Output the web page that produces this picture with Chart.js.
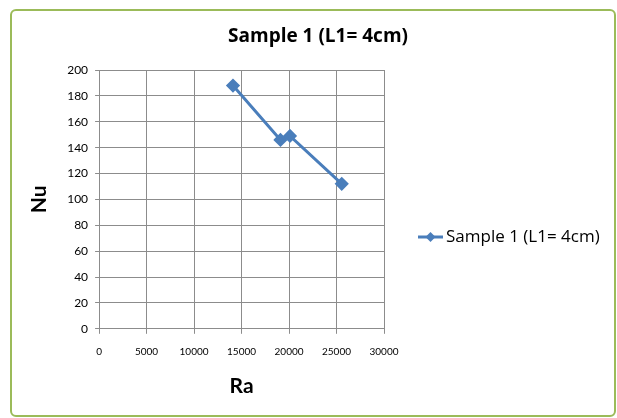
<!DOCTYPE html>
<html>
<head>
<meta charset="utf-8">
<script src="https://cdn.jsdelivr.net/npm/chart.js@4/dist/chart.umd.min.js"></script>
<style>
  body { margin: 0; background: #fff; }
  #frame { position: absolute; left: 10px; top: 9px; width: 602px; height: 404px;
           border: 2px solid #9bbb59; border-radius: 6px; }
  #wrap { position: absolute; left: 0; top: 0; width: 617px; height: 418px; }
</style>
</head>
<body>
<div id="frame"></div>
<div id="wrap"><canvas id="nuChart"></canvas></div>
<script>
var seriesName = "Sample 1 (L1= 4cm)";
var raValues = [14100, 19100, 20100, 25550];
var nuValues = [188, 146, 149, 112];
var xTicks = [0, 5000, 10000, 15000, 20000, 25000, 30000];
var yTicks = [0, 20, 40, 60, 80, 100, 120, 140, 160, 180, 200];

var lineColor = '#4a7ebb';
var fontFam = 'Lato, "Open Sans", sans-serif';
var wideFam = '"Open Sans", Lato, sans-serif';

var points = raValues.map(function (r, i) { return { x: r, y: nuValues[i] }; });

// title across the whole frame + legend on the right (line + diamond)
var sideBits = {
  id: 'sideBits',
  afterDraw: function (chart) {
    var c = chart.ctx;
    var ds = chart.data.datasets[0];
    c.save();
    c.fillStyle = '#000';
    c.font = 'bold 19px ' + wideFam;
    c.textAlign = 'center';
    c.textBaseline = 'middle';
    c.fillText(ds.label, 318, 37);

    var y = 237;
    c.strokeStyle = lineColor;
    c.lineWidth = 3;
    c.beginPath();
    c.moveTo(418, y);
    c.lineTo(443, y);
    c.stroke();
    c.fillStyle = lineColor;
    c.beginPath();
    c.moveTo(430.5, y - 5);
    c.lineTo(435.5, y);
    c.lineTo(430.5, y + 5);
    c.lineTo(425.5, y);
    c.closePath();
    c.fill();
    c.fillStyle = '#000';
    c.font = '17px ' + wideFam;
    c.textAlign = 'left';
    c.fillText(ds.label, 446, y);
    c.restore();
  }
};

new Chart(document.getElementById('nuChart'), {
  type: 'scatter',
  data: {
    datasets: [{
      label: seriesName,
      data: points,
      showLine: true,
      borderColor: lineColor,
      backgroundColor: lineColor,
      borderWidth: 3,
      pointStyle: 'rectRot',
      pointRadius: 5,
      pointHoverRadius: 5
    }]
  },
  options: {
    responsive: true,
    maintainAspectRatio: false,
    animation: false,
    layout: { padding: { left: 23, right: 233, top: 70, bottom: 15 } },
    plugins: {
      legend: { display: false },
      tooltip: { enabled: false },
      title: { display: false }
    },
    scales: {
      x: {
        type: 'linear',
        min: 0, max: 30000,
        afterBuildTicks: function (ax) { ax.ticks = xTicks.map(function (v) { return { value: v }; }); },
        grid: { color: '#8c8c8c', tickLength: 5 },
        border: { color: '#8c8c8c' },
        ticks: { color: '#000', padding: 12, maxRotation: 0, font: { family: fontFam, size: 10 },
                 callback: function (v) { return String(v); } },
        title: { display: true, text: 'Ra', color: '#000', padding: { top: 4 },
                 font: { family: fontFam, size: 21, weight: 'bold' } }
      },
      y: {
        min: 0, max: 200,
        afterBuildTicks: function (ax) { ax.ticks = yTicks.map(function (v) { return { value: v }; }); },
        grid: { color: '#8c8c8c', tickLength: 4 },
        border: { color: '#8c8c8c' },
        ticks: { color: '#000', padding: 7, font: { family: fontFam, size: 12 } },
        title: { display: true, text: 'Nu', color: '#000', padding: { bottom: 8 },
                 font: { family: fontFam, size: 21, weight: 'bold' } }
      }
    }
  },
  plugins: [sideBits]
});
</script>
</body>
</html>
